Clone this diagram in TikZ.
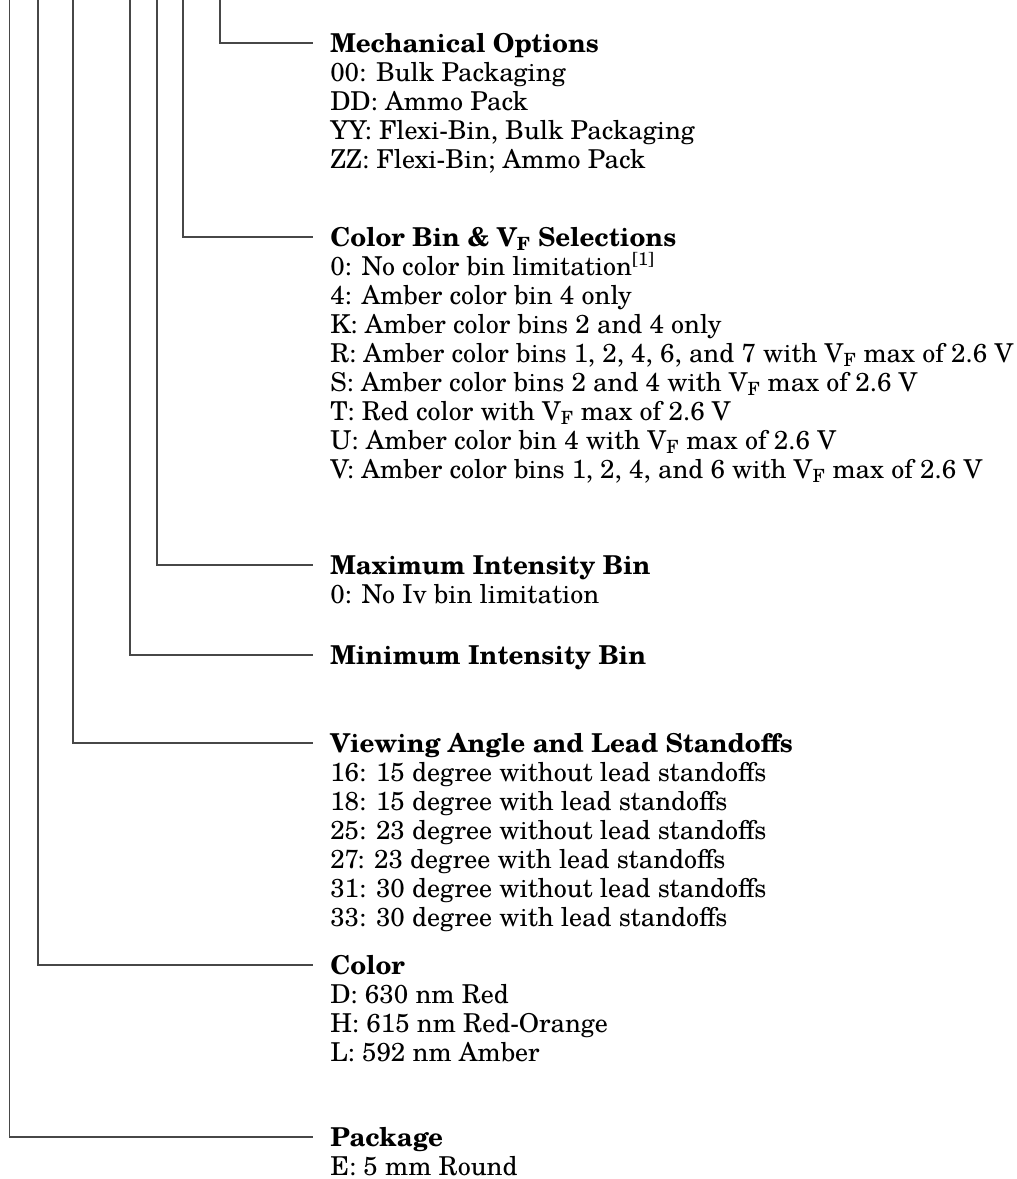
\documentclass[tikz,border=0pt]{standalone}
\usepackage{fontspec}
\setmainfont{texgyreschola}[Extension=.otf, UprightFont=*-regular, BoldFont=*-bold, ItalicFont=*-italic, BoldItalicFont=*-bolditalic]
\usetikzlibrary{calc}
\tikzset{
  conn/.style={draw=black!72, line width=0.9pt},
  ttl/.style={anchor=west, font=\fontsize{19.5}{23}\selectfont\bfseries, inner xsep=12.75pt, inner ysep=0pt, text height=14.1pt, text depth=0pt},
  itm/.style={anchor=base west, font=\fontsize{19.5}{23}\selectfont, inner sep=0pt},
}
\newcommand{\VF}{V\textsubscript{F}}
\begin{document}
\begin{tikzpicture}[x=0.75pt,y=-0.75pt]
\useasboundingbox (0,0) rectangle (1017,1179);
% top ends of the leader lines
\coordinate (p7) at (220,0);
\coordinate (p6) at (183,0);
\coordinate (p5) at (157,0);
\coordinate (p4) at (130,0);
\coordinate (p3) at (73,0);
\coordinate (p2) at (38,0);
\coordinate (p1) at (9.5,0);
% titles
\node[ttl] (mech) at (313,43) {Mechanical Options};
\node[ttl] (cbin) at (313,237) {Color Bin \& \VF\ Selections};
\node[ttl] (maxi) at (313,565) {Maximum Intensity Bin};
\node[ttl] (mini) at (313,655) {Minimum Intensity Bin};
\node[ttl] (view) at (313,743) {Viewing Angle and Lead Standoffs};
\node[ttl] (colr) at (313,965) {Color};
\node[ttl] (pack) at (313,1137) {Package};
% items
\foreach \i/\t in {1/{00: Bulk Packaging},2/{DD: Ammo Pack},3/{YY: Flexi-Bin, Bulk Packaging},4/{ZZ: Flexi-Bin; Ammo Pack}}
  \node[itm] (mech\i) at ($(mech.base west)+(17,29*\i)$) {\t};
\foreach \i/\t in {1/{0: No color bin limitation\textsuperscript{[1]}},2/{4: Amber color bin 4 only},3/{K: Amber color bins 2 and 4 only},4/{R: Amber color bins 1, 2, 4, 6, and 7 with \VF\ max of 2.6 V},5/{S: Amber color bins 2 and 4 with \VF\ max of 2.6 V},6/{T: Red color with \VF\ max of 2.6 V},7/{U: Amber color bin 4 with \VF\ max of 2.6 V},8/{V: Amber color bins 1, 2, 4, and 6 with \VF\ max of 2.6 V}}
  \node[itm] (cbin\i) at ($(cbin.base west)+(17,29*\i)$) {\t};
\node[itm] (maxi1) at ($(maxi.base west)+(17,29)$) {0: No Iv bin limitation};
\foreach \i/\t in {1/{16: 15 degree without lead standoffs},2/{18: 15 degree with lead standoffs},3/{25: 23 degree without lead standoffs},4/{27: 23 degree with lead standoffs},5/{31: 30 degree without lead standoffs},6/{33: 30 degree with lead standoffs}}
  \node[itm] (view\i) at ($(view.base west)+(17,29*\i)$) {\t};
\foreach \i/\t in {1/{D: 630 nm Red},2/{H: 615 nm Red-Orange},3/{L: 592 nm Amber}}
  \node[itm] (colr\i) at ($(colr.base west)+(17,29*\i)$) {\t};
\node[itm] (pack1) at ($(pack.base west)+(17,29)$) {E: 5 mm Round};
% leader lines
\draw[conn] (p7) |- (mech.west);
\draw[conn] (p6) |- (cbin.west);
\draw[conn] (p5) |- (maxi.west);
\draw[conn] (p4) |- (mini.west);
\draw[conn] (p3) |- (view.west);
\draw[conn] (p2) |- (colr.west);
\draw[conn] (p1) |- (pack.west);
\end{tikzpicture}
\end{document}
